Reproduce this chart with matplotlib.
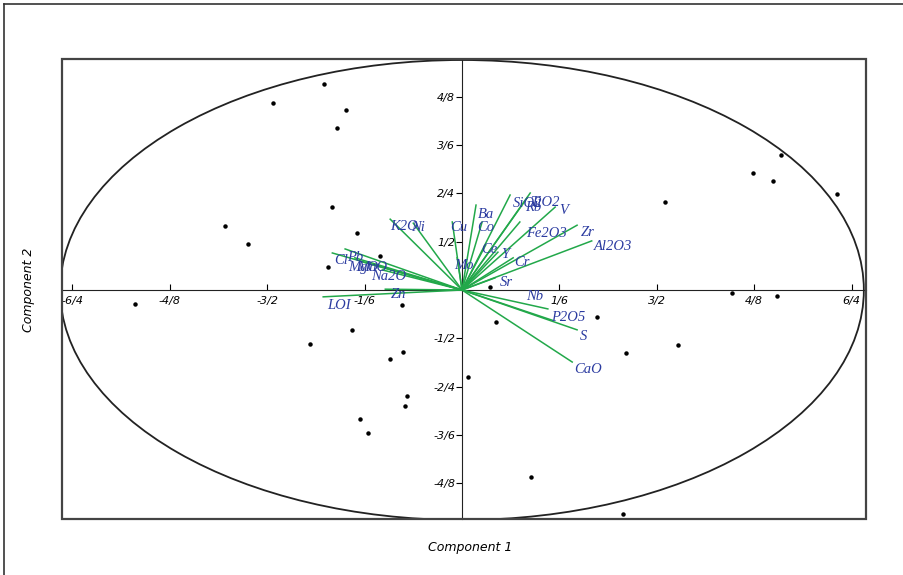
"""plot.py

PCA biplot: variable loadings (green vectors) and sample scores (dots).

"""

import matplotlib
matplotlib.use("Agg")

import matplotlib.pyplot as plt
from matplotlib.patches import Ellipse, Rectangle
from matplotlib.lines import Line2D


# variable loadings on component 1 / component 2
variables = ["Ba", "Co", "Cu", "Mo", "Ce", "Y", "Cr", "Sr", "Fe2O3", "SiO2",
             "TiO2", "Rb", "V", "Zr", "Al2O3", "Nb", "P2O5", "S", "CaO",
             "K2O", "Ni", "Cl", "Pb", "MgO", "MnO", "Na2O", "Zn", "LOI"]
load_c1 = [0.023, 0.033, -0.016, -0.008, 0.039, 0.059, 0.084, 0.054, 0.095,
           0.079, 0.112, 0.107, 0.153, 0.189, 0.213, 0.141, 0.148, 0.189,
           0.181, -0.118, -0.080, -0.213, -0.192, -0.176, -0.164, -0.131,
           -0.126, -0.228]
load_c2 = [0.211, 0.169, 0.169, 0.080, 0.112, 0.094, 0.080, 0.030, 0.169,
           0.236, 0.241, 0.229, 0.206, 0.161, 0.122, -0.047, -0.075, -0.099,
           -0.179, 0.176, 0.166, 0.092, 0.102, 0.080, 0.070, 0.050, 0.002,
           -0.017]

# sample scores
score_c1 = [-0.227, -0.310, -0.190, -0.205, -0.213, -0.389, -0.351, -0.172,
            -0.135, -0.220, 0.524, 0.478, 0.511, 0.616, 0.333, 0.046, -0.537,
            -0.099, -0.181, -0.250, -0.097, -0.118, 0.010, -0.090, -0.094,
            -0.167, -0.154, 0.056, 0.222, 0.269, 0.355, 0.113, 0.264, 0.443,
            0.517]
score_c2 = [0.512, 0.465, 0.447, 0.402, 0.206, 0.159, 0.114, 0.142, 0.084,
            0.057, 0.335, 0.291, 0.271, 0.239, 0.219, 0.007, -0.035, -0.037,
            -0.099, -0.134, -0.154, -0.171, -0.216, -0.263, -0.288, -0.320,
            -0.355, -0.080, -0.067, -0.157, -0.137, -0.465, -0.557, -0.007,
            -0.015]

x_ticks = [-0.64, -0.48, -0.32, -0.16, 0.16, 0.32, 0.48, 0.64]
x_tick_labels = ["-6/4", "-4/8", "-3/2", "-1/6", "1/6", "3/2", "4/8", "6/4"]
y_ticks = [-0.48, -0.36, -0.24, -0.12, 0.12, 0.24, 0.36, 0.48]
y_tick_labels = ["-4/8", "-3/6", "-2/4", "-1/2", "1/2", "2/4", "3/6", "4/8"]

# label offsets from the vector tip, in pixels
LABEL_OFFSETS = {
    "Ba": (10, -9), "Co": (4, -6), "Cu": (6, -6), "Mo": (7, -8),
    "Ce": (4, -5), "Y": (7, -2), "Cr": (9, -5), "Sr": (11, -5),
    "Fe2O3": (27, -12), "SiO2": (17, -8), "TiO2": (15, -9), "Rb": (6, -10),
    "V": (9, -3), "Zr": (11, -7), "Al2O3": (21, -6), "Nb": (-13, 12),
    "P2O5": (16, 3), "S": (6, -7), "CaO": (16, -7), "K2O": (14, -7),
    "Ni": (5, -4), "Cl": (9, -8), "Pb": (10, -9), "MgO": (8, -10),
    "MnO": (10, -6), "Na2O": (6, -7), "Zn": (13, -5), "LOI": (16, -9),
}

GREEN = "#22a84a"
BLUE = "#2b3ba0"
XLIM = (-0.657, 0.663)
YLIM = (-0.569, 0.574)


fig = plt.figure(figsize=(9.04, 5.75), dpi=100)
ax = fig.add_axes([0.0686, 0.0974, 0.889, 0.800])

# outer frame (only left and top edges visible)
fig.add_artist(Line2D([0.0044, 0.0044], [0.0, 0.993], transform=fig.transFigure,
                      color="#333333", lw=1.2))
fig.add_artist(Line2D([0.0044, 1.0], [0.993, 0.993], transform=fig.transFigure,
                      color="#333333", lw=1.2))

# reference ellipse
ax.add_patch(Ellipse((0, 0), XLIM[1] - XLIM[0], YLIM[1] - YLIM[0],
                     fill=False, ec="#222222", lw=1.3, zorder=1))

# sample scores
ax.plot(score_c1, score_c2, "o", color="black", ms=2.2, zorder=2)

# loading vectors
for name, x, y in zip(variables, load_c1, load_c2):
    ax.plot([0, x], [0, y], color=GREEN, lw=1.1, zorder=3)
    ax.annotate(name, (x, y), xytext=LABEL_OFFSETS[name],
                textcoords="offset pixels", ha="center", va="center",
                color=BLUE, fontsize=10.5, family="Liberation Serif",
                style="italic", zorder=4)

ax.set_xlim(*XLIM)
ax.set_ylim(*YLIM)

# axes through the origin, box around the plot
for side in ["top", "right"]:
    ax.spines[side].set_visible(False)
ax.spines["left"].set_position(("data", 0))
ax.spines["bottom"].set_position(("data", 0))
ax.spines["left"].set_color("#222222")
ax.spines["bottom"].set_color("#222222")
ax.add_patch(Rectangle((0, 0), 1, 1, transform=ax.transAxes, fill=False,
                       ec="#444444", lw=1.6, zorder=5, clip_on=False))

ax.set_xticks(x_ticks)
ax.set_xticklabels(x_tick_labels)
ax.set_yticks(y_ticks)
ax.set_yticklabels(y_tick_labels)
ax.tick_params(axis="x", direction="in", length=4, pad=4, labelsize=8)
ax.tick_params(axis="y", direction="out", length=4, pad=1, labelsize=8)
for lbl in ax.get_xticklabels() + ax.get_yticklabels():
    lbl.set_style("italic")

fig.text(0.52, 0.047, "Component 1", ha="center", va="center",
         fontsize=9, style="italic")
fig.text(0.031, 0.496, "Component 2", ha="center", va="center",
         fontsize=9, style="italic", rotation=90)

fig.savefig("out.png", dpi=100)
